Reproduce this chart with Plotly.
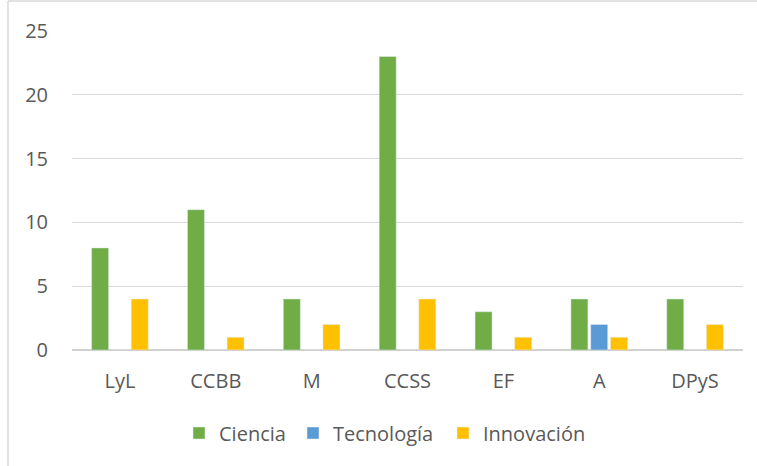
import plotly.graph_objects as go

categories = ["LyL", "CCBB", "M", "CCSS", "EF", "A", "DPyS"]
ciencia = [8, 11, 4, 23, 3, 4, 4]
tecnologia = [0, 0, 0, 0, 0, 2, 0]
innovacion = [4, 1, 2, 4, 1, 1, 2]
y_ticks = [0, 5, 10, 15, 20, 25]

W, H = 757, 466
ml, mr, mt, mb = 72, 14, 31, 116
pw = W - ml - mr
ph = H - mt - mb

def px_x(p):
    return (p - ml) / pw

def px_y(p):
    return (H - mb - p) / ph

font = "Open Sans, Noto Sans, sans-serif"
txt = "#595959"

fig = go.Figure()
fig.add_trace(go.Bar(name="Ciencia", x=categories, y=ciencia, marker_color="#70AD47", legend="legend"))
fig.add_trace(go.Bar(name="Tecnología", x=categories, y=tecnologia, marker_color="#5B9BD5", legend="legend2"))
fig.add_trace(go.Bar(name="Innovación", x=categories, y=innovacion, marker_color="#FFC000", legend="legend3"))

leg_common = dict(orientation="h", xanchor="left", y=px_y(433), yanchor="middle",
                  font=dict(size=20, color=txt, family=font), bgcolor="rgba(0,0,0,0)",
                  itemwidth=30)

fig.update_layout(
    width=W, height=H,
    margin=dict(l=ml, r=mr, t=mt, b=mb),
    paper_bgcolor="white", plot_bgcolor="white",
    barmode="group", bargap=0.38, bargroupgap=0.14,
    font=dict(family=font, color=txt, size=20),
    showlegend=True,
    legend=dict(x=px_x(219 - 40), **leg_common),
    legend2=dict(x=px_x(333 - 40), **leg_common),
    legend3=dict(x=px_x(483 - 40), **leg_common),
    xaxis=dict(showgrid=False, showline=False, ticks="", ticklabelstandoff=17,
               tickfont=dict(size=20, color=txt)),
    yaxis=dict(range=[0, 25], tickvals=y_ticks, showgrid=True, gridcolor="#D9D9D9", gridwidth=1,
               zeroline=True, zerolinecolor="#D0D0D0", zerolinewidth=2, ticks="",
               ticklabelstandoff=23, tickfont=dict(size=20, color=txt)),
    shapes=[
        dict(type="line", xref="paper", yref="paper", x0=px_x(8), x1=px_x(8),
             y0=px_y(1), y1=px_y(466), line=dict(color="#D9D9D9", width=1.5)),
        dict(type="line", xref="paper", yref="paper", x0=px_x(8), x1=px_x(757),
             y0=px_y(1), y1=px_y(1), line=dict(color="#D9D9D9", width=1.5)),
    ],
)

fig.write_html("out.html", config={"displayModeBar": False},
               post_script="document.body.style.margin='0';")
